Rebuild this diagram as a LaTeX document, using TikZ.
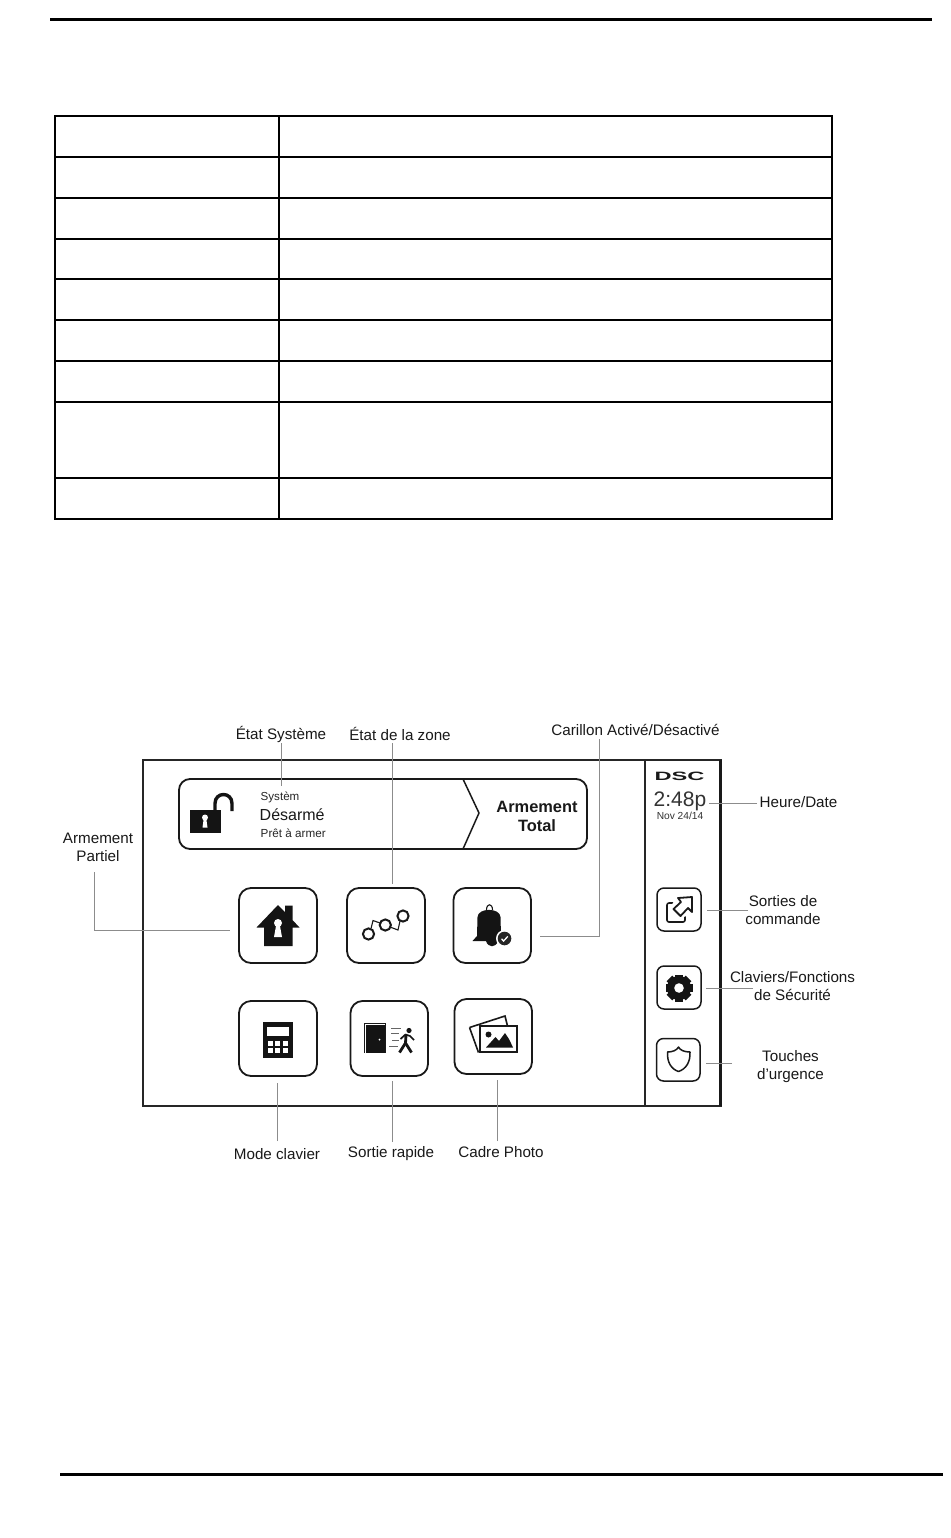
\documentclass[tikz,border=0pt]{standalone}
\usepackage{fontspec}
\setmainfont{Liberation Sans}
\tikzset{
  x=1pt,y=-1pt,
  lbl/.style={font=\fontsize{15.2}{18}\selectfont,text=black!90,align=center,inner sep=0pt},
  lead/.style={draw=black!45,line width=0.9pt},
  tick/.style={draw=black!90,line width=1.8pt,rounded corners=11pt,fill=none},
  btn/.style={draw=black!90,line width=1.8pt,rounded corners=12pt,fill=none},
  rule/.style={draw=black,line width=3pt},
  icon/.style={fill=black!92,draw=none},
  iconl/.style={draw=black!90,line width=1.6pt,fill=none},
}
\begin{document}
\begin{tikzpicture}
\useasboundingbox (0,0) rectangle (950,1538);
\fill[white] (0,0) rectangle (950,1538);
% page rules
\coordinate (tl) at (50,19.5); \coordinate (tr) at (932,19.5);
\coordinate (bl) at (60,1474); \coordinate (br) at (943,1474);
\draw[rule] (tl)--(tr);
\draw[rule] (bl)--(br);
% table
\draw[black,line width=2pt] (55,116) rectangle (832,519);
\foreach \y in {157,198,239,279,320,361,402,478} \draw[black,line width=2pt] (55,\y)--(832,\y);
\draw[black,line width=2pt] (279,116)--(279,519);
% panel
\draw[draw=black!85,line width=1.8pt] (143,760) rectangle (721,1106);
\draw[black!85,line width=1.8pt] (645,760)--(645,1106);
\draw[black!90,line width=3pt] (720.5,760)--(720.5,1106);
% arm bar
\draw[tick] (179,779) rectangle (587,849);
\draw[black!90,line width=1.5pt] (463,779)--(479,813)--(463,849);
\node[font=\bfseries\fontsize{16.4}{19}\selectfont,text=black!90,align=center,inner sep=0pt] (total) at (537,816) {Armement\\Total};
\node[font=\fontsize{11.6}{13}\selectfont,text=black!85,anchor=west,inner sep=0pt] (sys) at (260.5,797) {Systèm};
\node[font=\fontsize{16}{19}\selectfont,text=black!90,anchor=west,inner sep=0pt] (des) at (259.5,814.5) {Désarmé};
\node[font=\fontsize{11.7}{13}\selectfont,text=black!85,anchor=west,inner sep=0pt] (pret) at (260.5,833) {Prêt à armer};
% open lock
\fill[icon] (190,810) rectangle (221,833);
\draw[black!92,line width=3.4pt] (215,811)--(215,803.5) .. controls (215,791.5) and (232,791.5) .. (232,803.5)--(232,811);
\fill[white] (205,817.5) circle[radius=3pt];
\fill[white] (203.8,818) -- (206.2,818) -- (207.5,827.5) -- (202.5,827.5) -- cycle;
% buttons
\draw[btn] (239,888) rectangle (317,963);
\draw[btn] (347,888) rectangle (425,963);
\draw[btn] (453.5,888) rectangle (531,963);
\draw[btn] (239,1001) rectangle (317,1076);
\draw[btn] (350.5,1001) rectangle (428,1076);
\draw[btn] (454.5,999) rectangle (532,1074);
\draw[black!90,line width=1.5pt,rounded corners=7pt] (657,888) rectangle (701,931);
\draw[black!90,line width=1.5pt,rounded corners=7pt] (657,966) rectangle (701,1009);
\draw[black!90,line width=1.5pt,rounded corners=7pt] (656.5,1038.5) rectangle (700,1081);
% house
\fill[icon] (256.5,927.5) -- (278,905) -- (285,912) -- (285,905.5) -- (292.5,905.5) -- (292.5,920) -- (299.5,927.5) -- (292.5,927.5) -- (292.5,946) -- (264,946) -- (264,927.5) -- cycle;
\fill[white] (278,923) circle[radius=4pt];
\fill[white] (276.2,925) -- (279.8,925) -- (282,937) -- (274,937) -- cycle;
% zones
\draw[black!90,line width=1.1pt] (371,928.5) -- (373,920.5) -- (380,923);
\draw[black!90,line width=1.1pt] (390,927) -- (398,930) -- (400,921);
\draw[draw=black!90,line width=2pt] (368.5,934) circle[radius=5.6pt];
\draw[draw=black!90,line width=2pt] (385.3,925) circle[radius=5.6pt];
\draw[draw=black!90,line width=2pt] (403,916) circle[radius=5.6pt];
% bell
\fill[icon] (472.5,941) -- (477,936) -- (477.5,917) .. controls (478,907.5) and (500,907.5) .. (500.5,917) -- (501,936) -- (505,941) -- (498,941) .. controls (496,948) and (488,948) .. (486,941) -- cycle;
\draw[black!92,line width=1.1pt] (486.5,910) .. controls (486.5,903) and (492.5,903) .. (492.5,910);
\fill[white] (504.5,938.5) circle[radius=8.5pt];
\fill[black!85] (504.5,938.5) circle[radius=6.8pt];
\draw[white,line width=1.3pt] (501.5,938.8)--(503.6,941)--(507.8,936.4);
% keypad
\fill[icon] (263,1022) rectangle (292.5,1058);
\fill[white] (267,1027) rectangle (289,1036);
\foreach \xx in {268,275,283} \foreach \yy in {1041,1048.3} \fill[white] (\xx,\yy) rectangle ++(5,4.7);
% door + person
\draw[black!90,line width=1pt] (364.5,1053) -- (364.5,1023) -- (385.5,1023) -- (385.5,1053);
\fill[icon] (366,1025) rectangle (385,1053);
\fill[white] (379.5,1039.5) circle[radius=1pt];
\foreach \a/\b/\c in {391/401/1028,391/399/1033.5,392/399/1040,389/398/1046.5} \draw[black!60,line width=0.8pt] (\a,\c)--(\b,\c);
\fill[icon] (409,1030.5) circle[radius=2.6pt];
\draw[black!92,line width=2.8pt,line join=round] (406,1035) -- (405.5,1043) -- (399.5,1052.5);
\draw[black!92,line width=2.8pt,line join=round] (405.5,1043) -- (411.5,1052.5);
\draw[black!92,line width=1.7pt,line join=round] (400.5,1039) -- (405.5,1034.5) -- (410,1036) -- (414,1040);
% photos
\draw[iconl] (469.5,1027.5) -- (505,1016) -- (507.5,1026);
\draw[iconl] (469.5,1027.5) -- (478.5,1052.5);
\draw[black!90,line width=1.6pt,fill=white] (480,1026) rectangle (517,1052);
\fill[icon] (488.5,1034.5) circle[radius=3pt];
\fill[icon] (486,1047.5) -- (495.5,1037) -- (499,1041) -- (505,1033) -- (509,1039) -- (513,1047.5) -- cycle;
% side icons
\draw[black!90,line width=1.6pt,rounded corners=2pt] (685,909)--(685,922)--(667,922)--(667,903)--(678,903);
\fill[white] (670,908) -- (677,896) -- (693,896) -- (693,914) -- (680.5,918) -- cycle;
\draw[black!90,line width=1.8pt,line join=round] (673.5,909) -- (681,902) -- (678,898) -- (692,897) -- (692,912) -- (688,908) -- (680.5,916) -- cycle;
\fill[icon] (679,988) circle[radius=12pt];
\foreach \a in {0,45,...,315} \fill[icon,rotate around={\a:(679,988)}] (675,974.5) rectangle (683,980);
\fill[white] (679,988) circle[radius=4.8pt];
\draw[black!90,line width=1.5pt,line join=round] (667.5,1052) .. controls (673,1052) and (677,1050) .. (678.5,1047) .. controls (680,1050) and (684,1052) .. (690,1052) .. controls (690.5,1062) and (686,1069) .. (678.5,1071.5) .. controls (671,1069) and (667,1062) .. (667.5,1052) -- cycle;
% DSC
\node[font=\bfseries\fontsize{11}{13}\selectfont,text=black!90,inner sep=0pt,xscale=2.15,yscale=1.1] (dsc) at (679.5,776.5) {DSC};
\node[font=\fontsize{21}{24}\selectfont,text=black!80,inner sep=0pt] (clock) at (680,801.5) {2:48p};
\node[font=\fontsize{10.2}{12}\selectfont,text=black!80,inner sep=0pt] (date) at (680,815.5) {Nov 24/14};
% labels
\node[lbl] (l1) at (281,734.5) {État Système};
\node[lbl] (l2) at (400,733.5) {État de la zone};
\node[lbl] (l3) at (635.5,730) {Carillon Activé/Désactivé};
\node[lbl] (l4) at (798.5,802) {Heure/Date};
\node[lbl] (l5) at (783,910) {Sorties de\\commande};
\node[lbl] (l6) at (792.5,986) {Claviers/Fonctions\\de Sécurité};
\node[lbl] (l7) at (790.5,1066.5) {Touches\\d’urgence};
\node[lbl] (l8) at (98,847) {Armement\\Partiel};
\node[lbl] (l9) at (277,1154) {Mode clavier};
\node[lbl] (l10) at (391,1153.5) {Sortie rapide};
\node[lbl] (l11) at (501,1152.5) {Cadre Photo};
% leaders
\coordinate (a1) at (281,786); \coordinate (b1) at (281,743);
\coordinate (a2) at (392,884); \coordinate (b2) at (392,743);
\coordinate (a3) at (540,936); \coordinate (b3) at (599.5,739); \coordinate (c3) at (599.5,936);
\coordinate (a4) at (709,803); \coordinate (b4) at (757,803);
\coordinate (a5) at (707,910); \coordinate (b5) at (748,910);
\coordinate (a6) at (706,988); \coordinate (b6) at (753,988);
\coordinate (a7) at (706,1063); \coordinate (b7) at (732,1063);
\coordinate (a8) at (230,930.5); \coordinate (b8) at (94.5,872); \coordinate (c8) at (94.5,930.5);
\coordinate (a9) at (277,1083); \coordinate (b9) at (277,1141);
\coordinate (a10) at (392,1081); \coordinate (b10) at (392,1142);
\coordinate (a11) at (497,1080); \coordinate (b11) at (497,1141);
\draw[lead] (b1)--(a1);
\draw[lead] (b2)--(a2);
\draw[lead] (b3)--(c3)--(a3);
\draw[lead] (b4)--(a4);
\draw[lead] (b5)--(a5);
\draw[lead] (b6)--(a6);
\draw[lead] (b7)--(a7);
\draw[lead] (b8)--(c8)--(a8);
\draw[lead] (b9)--(a9);
\draw[lead] (b10)--(a10);
\draw[lead] (b11)--(a11);
\end{tikzpicture}
\end{document}
